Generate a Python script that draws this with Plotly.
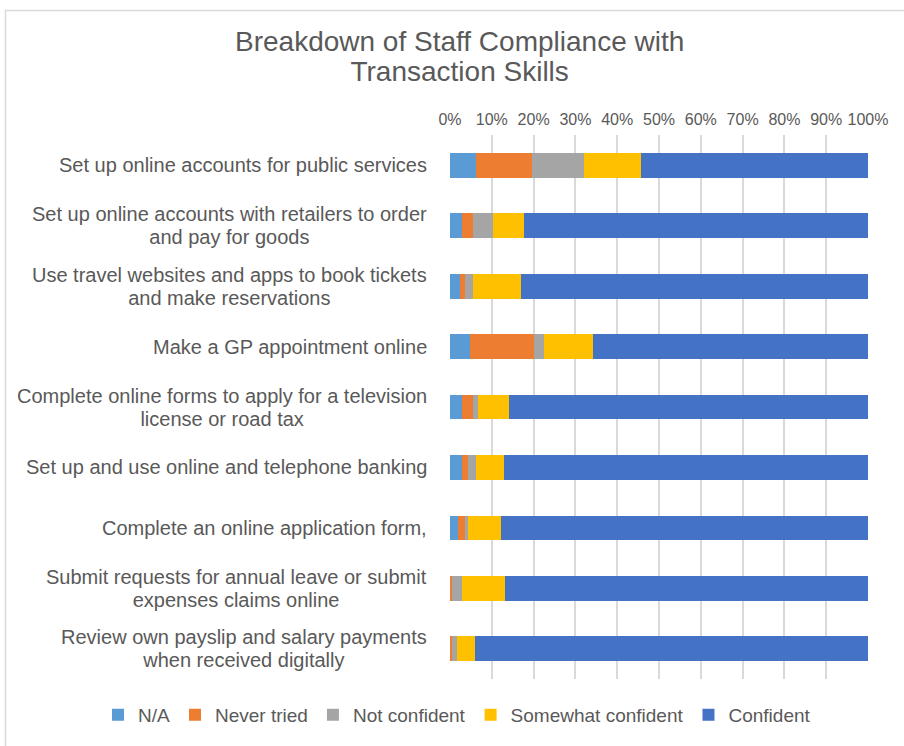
import plotly.graph_objects as go

categories = [
    "Set up online accounts for public services",
    "Set up online accounts with retailers to order<br>and pay for goods",
    "Use travel websites and apps to book tickets<br>and make reservations",
    "Make a GP appointment online",
    "Complete online forms to apply for a television<br>license or road tax",
    "Set up and use online and telephone banking",
    "Complete an online application form,",
    "Submit requests for annual leave or submit<br>expenses claims online",
    "Review own payslip and salary payments<br>when received digitally",
]

series_names = ["N/A", "Never tried", "Not confident", "Somewhat confident", "Confident"]
na = [6.1, 2.9, 2.4, 4.8, 2.9, 2.9, 1.8, 0.0, 0.0]
never_tried = [13.4, 2.5, 1.3, 15.2, 2.5, 1.3, 1.9, 0.5, 0.5]
not_confident = [12.6, 5.0, 1.7, 2.6, 1.2, 1.9, 0.7, 2.4, 1.2]
somewhat = [13.7, 7.2, 11.7, 11.5, 7.4, 6.7, 7.7, 10.3, 4.3]
confident = [54.2, 82.4, 82.9, 65.9, 86.0, 87.2, 87.9, 86.8, 94.0]

title_lines = ["Breakdown of Staff Compliance with", "Transaction Skills"]

colors = ["#5B9BD5", "#ED7D31", "#A5A5A5", "#FFC000", "#4472C4"]
all_series = [na, never_tried, not_confident, somewhat, confident]

fig = go.Figure()
for name, vals, col in zip(series_names, all_series, colors):
    fig.add_trace(go.Bar(
        y=categories, x=[v / 100 for v in vals], name=name, orientation="h",
        marker=dict(color=col, line=dict(width=0)),
    ))

FONT = "Liberation Sans, Arial, sans-serif"
GREY = "#595959"


def sized(text, px):
    return "<br>".join(
        '<span style="font-size:%dpx">%s</span>' % (px, part) for part in text.split("<br>")
    )


for c in categories:
    fig.add_annotation(
        x=-0.05, xref="paper", y=c, yref="y", text=sized(c, 20), showarrow=False,
        xanchor="right", yanchor="middle", align="center",
        font=dict(family=FONT, size=17.7, color=GREY),
    )

fig.add_annotation(
    x=(459 - 450) / 418, xref="paper", y=1 + (135 - 56) / 548, yref="paper",
    text=sized("<br>".join(title_lines), 28), showarrow=False,
    xanchor="center", yanchor="middle", align="center",
    font=dict(family=FONT, size=23, color=GREY),
)

fig.update_layout(
    width=904, height=746,
    barmode="stack", bargap=0.59,
    paper_bgcolor="white", plot_bgcolor="white",
    margin=dict(l=450, r=36, t=135, b=60),
    font=dict(family=FONT, color=GREY),
    xaxis=dict(
        side="top", range=[0, 1], dtick=0.1, tick0=0, tickformat=".0%",
        showgrid=True, gridcolor="#D9D9D9", gridwidth=1.5,
        zeroline=False, showline=False, ticks="",
        tickfont=dict(family=FONT, size=16, color=GREY),
        ticklabelstandoff=6,
        fixedrange=True,
    ),
    yaxis=dict(
        autorange="reversed", showticklabels=False, showgrid=False,
        zeroline=False, showline=False, ticks="",
    ),
    legend=dict(
        orientation="h", xref="paper", x=(98 - 450) / 418, xanchor="left",
        yref="paper", y=-0.066, yanchor="middle",
        font=dict(family=FONT, size=19, color=GREY),
        traceorder="normal",
    ),
    showlegend=True,
    shapes=[dict(
        type="rect", xref="paper", yref="paper",
        x0=(5.5 - 450) / 418, x1=1.2, y0=-0.2, y1=1 + (135 - 9.5) / 548,
        line=dict(color="#D9D9D9", width=1.5), fillcolor="rgba(0,0,0,0)",
        layer="below",
    )],
)

fig.write_html("out.html")
